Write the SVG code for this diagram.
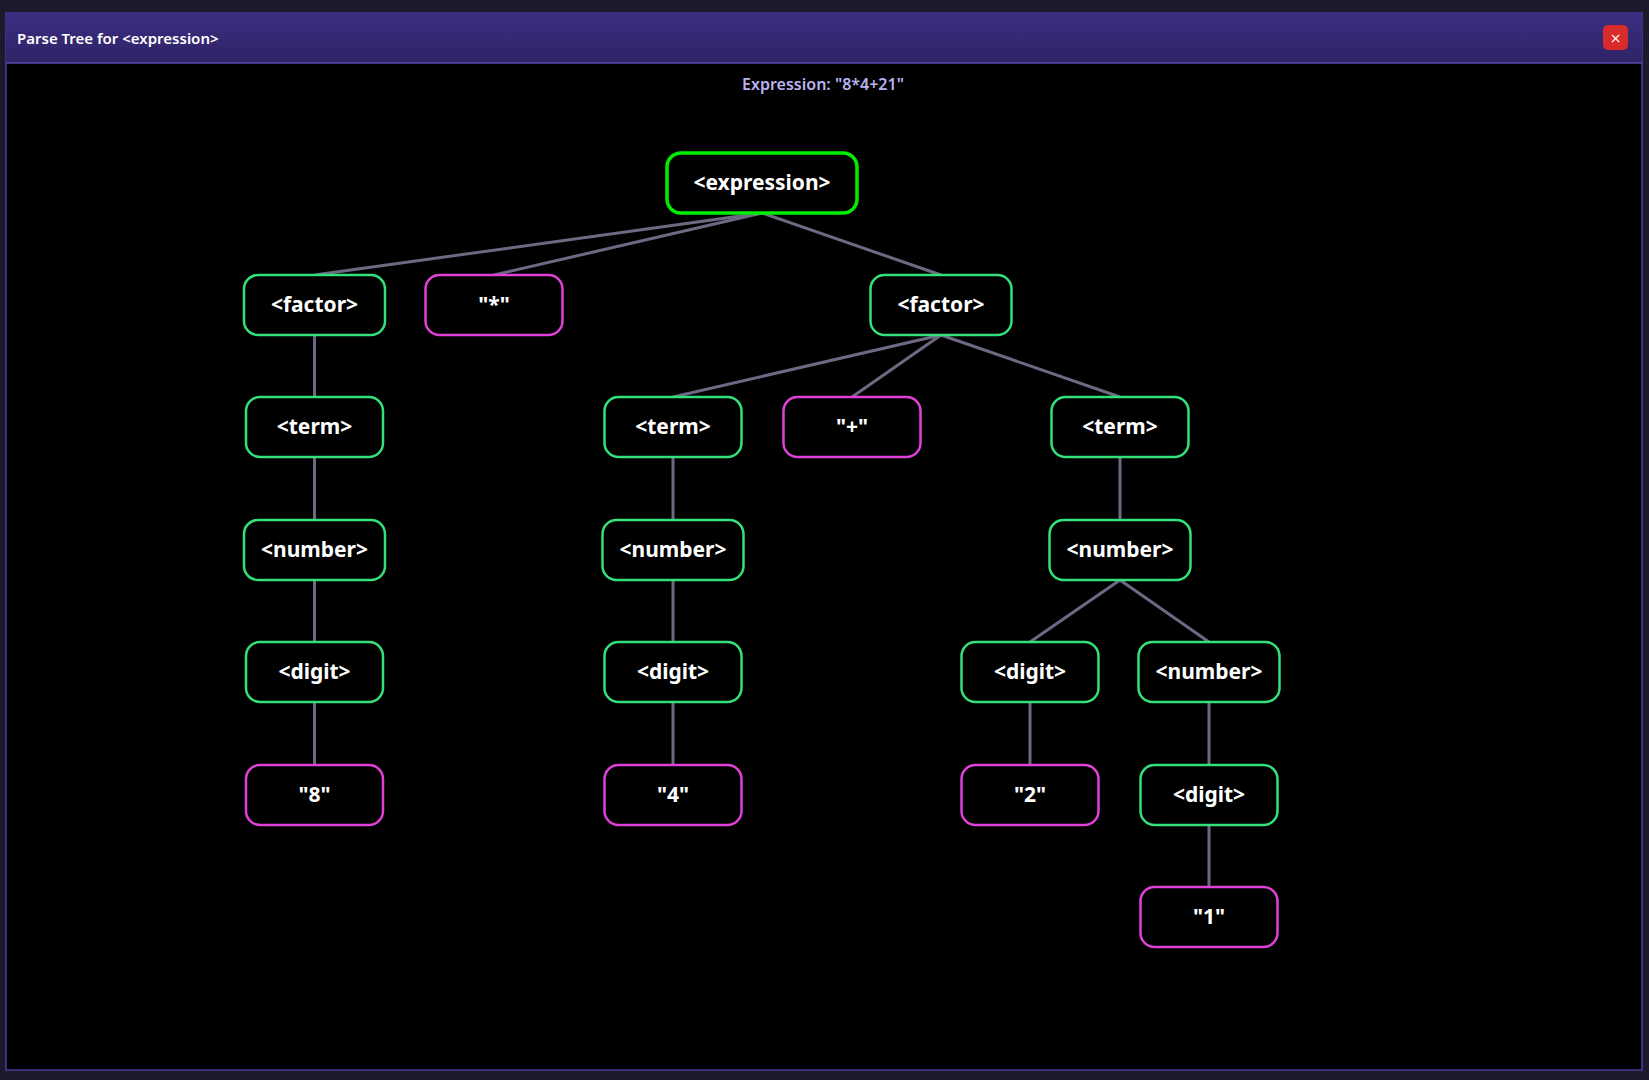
<svg xmlns="http://www.w3.org/2000/svg" width="1649" height="1080" viewBox="0 0 1649 1080">
<defs>
<linearGradient id="tb" x1="0" y1="0" x2="0" y2="1"><stop offset="0" stop-color="#3b2d82"/><stop offset="1" stop-color="#2e2466"/></linearGradient>
</defs>
<style>
.n rect{fill:#000;stroke:#33e07a;stroke-width:2.5}
.t rect{fill:#000;stroke:#e040d8;stroke-width:2.5}
.root rect{stroke:#00ee00;stroke-width:3.5}
text.l{font-family:"Noto Sans","DejaVu Sans",sans-serif;font-weight:bold;font-size:21px;fill:#fff;text-anchor:middle;dominant-baseline:central}
#edges line{stroke:#6c6a82;stroke-width:3}
</style>
<rect width="1649" height="1080" fill="#1c1a2c"/>
<rect x="6" y="13" width="1636" height="1057" fill="#000" stroke="#4a3d9a" stroke-width="1.5"/>
<rect x="6" y="13" width="1636" height="50" fill="url(#tb)"/>
<line x1="6" y1="63" x2="1642" y2="63" stroke="#5a4ab0" stroke-width="1.5"/>
<text x="17" y="38" font-family="Noto Sans,DejaVu Sans,sans-serif" font-size="15" font-weight="600" fill="#fff" dominant-baseline="central">Parse Tree for &lt;expression&gt;</text>
<rect x="1603" y="25" width="25" height="25" rx="5" fill="#d92b2b"/>
<text x="1615.5" y="37.5" font-family="DejaVu Sans,sans-serif" font-size="14" fill="#fff" text-anchor="middle" dominant-baseline="central">×</text>
<text x="823" y="84" font-family="Noto Sans,DejaVu Sans,sans-serif" font-size="16" font-weight="600" fill="#b9b3f0" text-anchor="middle" dominant-baseline="central">Expression: "8*4+21"</text>
<g id="edges">
<line x1="762" y1="213" x2="314.5" y2="275"/>
<line x1="762" y1="213" x2="494" y2="275"/>
<line x1="762" y1="213" x2="941" y2="275"/>
<line x1="314.5" y1="335" x2="314.5" y2="397"/>
<line x1="314.5" y1="457" x2="314.5" y2="520"/>
<line x1="314.5" y1="580" x2="314.5" y2="642"/>
<line x1="314.5" y1="702" x2="314.5" y2="765"/>
<line x1="941" y1="335" x2="673" y2="397"/>
<line x1="941" y1="335" x2="852" y2="397"/>
<line x1="941" y1="335" x2="1120" y2="397"/>
<line x1="673" y1="457" x2="673" y2="520"/>
<line x1="673" y1="580" x2="673" y2="642"/>
<line x1="673" y1="702" x2="673" y2="765"/>
<line x1="1120" y1="457" x2="1120" y2="520"/>
<line x1="1120" y1="580" x2="1030" y2="642"/>
<line x1="1120" y1="580" x2="1209" y2="642"/>
<line x1="1030" y1="702" x2="1030" y2="765"/>
<line x1="1209" y1="702" x2="1209" y2="765"/>
<line x1="1209" y1="825" x2="1209" y2="887"/>
</g>
<g id="expr" class="n root"><rect x="667" y="153" width="190" height="60" rx="14"/><text class="l" x="762" y="182">&lt;expression&gt;</text></g>
<g id="factor1" class="n"><rect x="244" y="275" width="141" height="60" rx="14"/><text class="l" x="314.5" y="304">&lt;factor&gt;</text></g>
<g id="star" class="t"><rect x="425.5" y="275" width="137" height="60" rx="14"/><text class="l" x="494" y="304">"*"</text></g>
<g id="factor2" class="n"><rect x="870.5" y="275" width="141" height="60" rx="14"/><text class="l" x="941" y="304">&lt;factor&gt;</text></g>
<g id="term1" class="n"><rect x="246" y="397" width="137" height="60" rx="14"/><text class="l" x="314.5" y="426">&lt;term&gt;</text></g>
<g id="term2" class="n"><rect x="604.5" y="397" width="137" height="60" rx="14"/><text class="l" x="673" y="426">&lt;term&gt;</text></g>
<g id="plus" class="t"><rect x="783.5" y="397" width="137" height="60" rx="14"/><text class="l" x="852" y="426">"+"</text></g>
<g id="term3" class="n"><rect x="1051.5" y="397" width="137" height="60" rx="14"/><text class="l" x="1120" y="426">&lt;term&gt;</text></g>
<g id="num1" class="n"><rect x="244" y="520" width="141" height="60" rx="14"/><text class="l" x="314.5" y="549">&lt;number&gt;</text></g>
<g id="num2" class="n"><rect x="602.5" y="520" width="141" height="60" rx="14"/><text class="l" x="673" y="549">&lt;number&gt;</text></g>
<g id="num3" class="n"><rect x="1049.5" y="520" width="141" height="60" rx="14"/><text class="l" x="1120" y="549">&lt;number&gt;</text></g>
<g id="digit1" class="n"><rect x="246" y="642" width="137" height="60" rx="14"/><text class="l" x="314.5" y="671">&lt;digit&gt;</text></g>
<g id="digit2" class="n"><rect x="604.5" y="642" width="137" height="60" rx="14"/><text class="l" x="673" y="671">&lt;digit&gt;</text></g>
<g id="digit3" class="n"><rect x="961.5" y="642" width="137" height="60" rx="14"/><text class="l" x="1030" y="671">&lt;digit&gt;</text></g>
<g id="num4" class="n"><rect x="1138.5" y="642" width="141" height="60" rx="14"/><text class="l" x="1209" y="671">&lt;number&gt;</text></g>
<g id="t8" class="t"><rect x="246" y="765" width="137" height="60" rx="14"/><text class="l" x="314.5" y="794">"8"</text></g>
<g id="t4" class="t"><rect x="604.5" y="765" width="137" height="60" rx="14"/><text class="l" x="673" y="794">"4"</text></g>
<g id="t2" class="t"><rect x="961.5" y="765" width="137" height="60" rx="14"/><text class="l" x="1030" y="794">"2"</text></g>
<g id="digit4" class="n"><rect x="1140.5" y="765" width="137" height="60" rx="14"/><text class="l" x="1209" y="794">&lt;digit&gt;</text></g>
<g id="t1" class="t"><rect x="1140.5" y="887" width="137" height="60" rx="14"/><text class="l" x="1209" y="916">"1"</text></g>
</svg>
